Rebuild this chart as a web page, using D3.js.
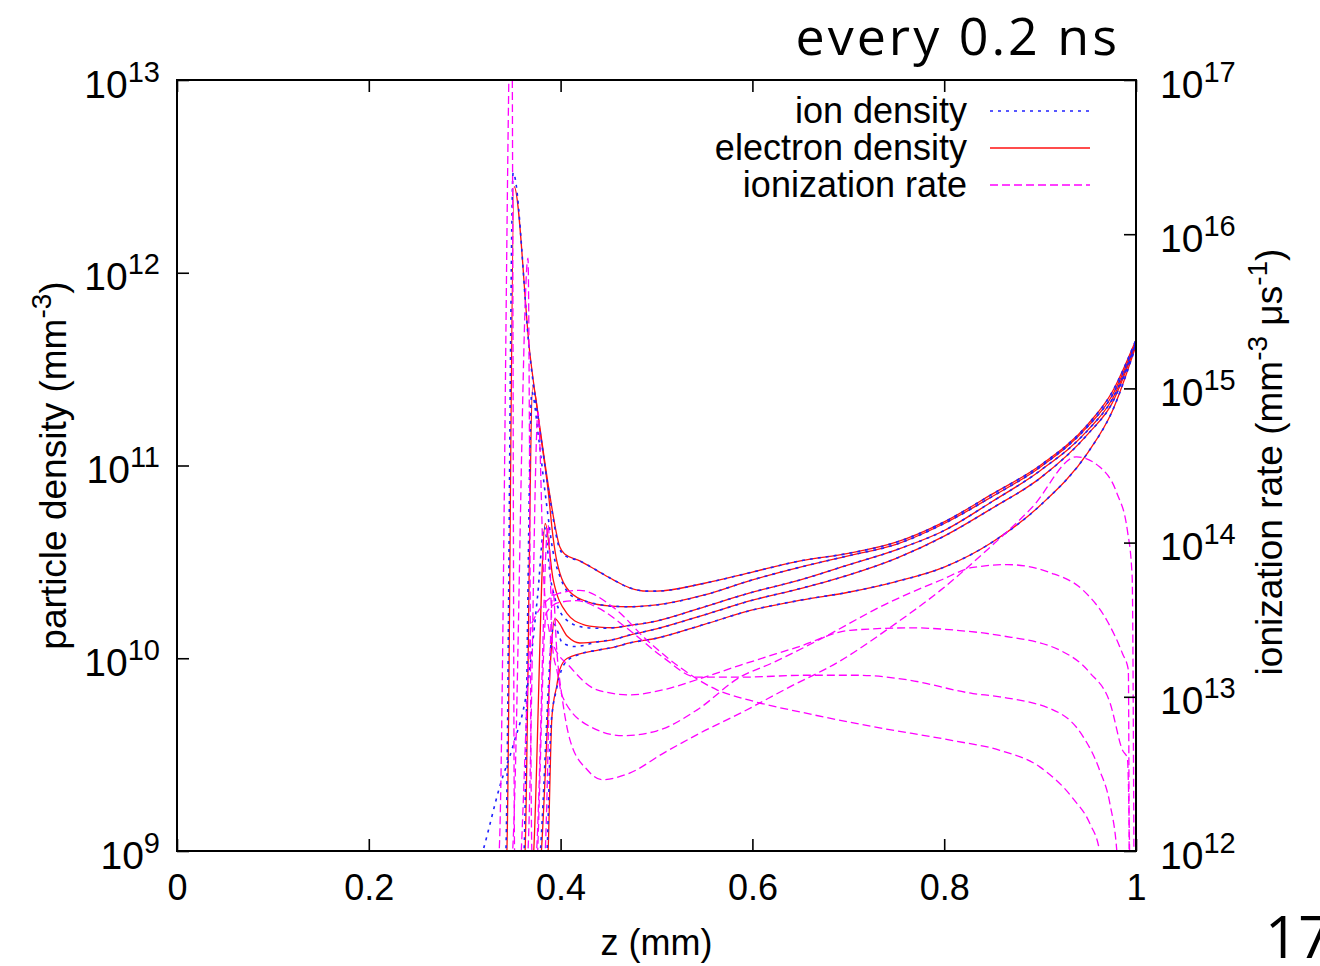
<!DOCTYPE html>
<html>
<head>
<meta charset="utf-8">
<script src="https://cdn.jsdelivr.net/npm/d3@7"></script>
<style>
  html, body { margin: 0; padding: 0; background: #fff; }
  svg text { font-family: "Liberation Sans", Arial, sans-serif; fill: #000; }
</style>
</head>
<body>
<div id="chart"></div>
<script>
// snapshots every 0.2 ns, s1 = front at z~0.345 ... s5 = front at z~0.39

// channel body, where ion and electron density coincide
const zChannel = [0.5, 0.55, 0.6, 0.65, 0.7, 0.75, 0.8, 0.85, 0.9, 0.95, 0.975, 1.0];
const channel1 = [2.23e10, 2.45e10, 2.8e10, 3.2e10, 3.5e10, 4.0e10, 5.1e10, 7.1e10, 1.0e11, 1.64e11, 2.4e11, 4.5e11];
const channel2 = [1.89e10, 2.13e10, 2.55e10, 2.97e10, 3.4e10, 3.9e10, 5.0e10, 6.9e10, 9.8e10, 1.6e11, 2.3e11, 4.4e11];
const channel3 = [1.56e10, 1.85e10, 2.2e10, 2.55e10, 3.05e10, 3.65e10, 4.6e10, 6.5e10, 9.4e10, 1.53e11, 2.2e11, 4.3e11];
const channel4 = [1.42e10, 1.68e10, 2.0e10, 2.3e10, 2.7e10, 3.3e10, 4.3e10, 6.0e10, 8.6e10, 1.46e11, 2.1e11, 4.3e11];
const channel5 = [1.27e10, 1.5e10, 1.78e10, 2.0e10, 2.2e10, 2.5e10, 2.97e10, 4.0e10, 6.2e10, 1.17e11, 1.9e11, 4.2e11];

// front region, [z (mm), density (mm^-3)]
const electronFront1 = [[0.338, 3e8], [0.344, 1e9], [0.3515, 2.8e12], [0.368, 3.8e11], [0.379, 1.5e11], [0.389, 6.9e10], [0.399, 3.8e10], [0.405, 3.45e10], [0.42, 3.2e10], [0.438, 2.85e10], [0.455, 2.55e10], [0.472, 2.32e10], [0.49, 2.23e10]];
const electronFront2 = [[0.356, 3e8], [0.363, 1e9], [0.371, 2.6e11], [0.379, 1.45e11], [0.387, 7.4e10], [0.392, 4.3e10], [0.396, 3.2e10], [0.41, 2.2e10], [0.43, 1.95e10], [0.45, 1.87e10], [0.472, 1.85e10]];
const electronFront3 = [[0.365, 3e8], [0.372, 1e9], [0.384, 5.0e10], [0.392, 2.6e10], [0.407, 1.7e10], [0.423, 1.5e10], [0.44, 1.45e10], [0.455, 1.44e10], [0.472, 1.48e10]];
const electronFront4 = [[0.373, 3e8], [0.38, 1e9], [0.394, 1.6e10], [0.407, 1.3e10], [0.42, 1.2e10], [0.44, 1.22e10], [0.455, 1.25e10], [0.472, 1.32e10]];
const electronFront5 = [[0.381, 3e8], [0.387, 1e9], [0.391, 5.0e9], [0.396, 7.2e9], [0.399, 8.7e9], [0.407, 1.0e10], [0.438, 1.1e10], [0.455, 1.14e10], [0.472, 1.2e10]];

const ionFront1 = [[0.337, 3e8], [0.343, 1e9], [0.3505, 3.3e12], [0.368, 3.7e11], [0.379, 1.45e11], [0.389, 6.7e10], [0.399, 3.7e10], [0.405, 3.4e10], [0.42, 3.2e10], [0.438, 2.85e10], [0.455, 2.55e10], [0.472, 2.32e10], [0.49, 2.23e10]];
const ionFront2 = [[0.356, 3e8], [0.362, 1e9], [0.37, 2.4e11], [0.377, 1.4e11], [0.385, 6.5e10], [0.392, 3.6e10], [0.4, 2.6e10], [0.412, 2.1e10], [0.43, 1.95e10], [0.45, 1.87e10], [0.472, 1.85e10]];
const ionFront3 = [[0.3, 5e8], [0.319, 1e9], [0.337, 2.2e9], [0.351, 3.6e9], [0.365, 6.9e9], [0.376, 2.1e10], [0.383, 4.8e10], [0.39, 2.5e10], [0.405, 1.6e10], [0.423, 1.45e10], [0.44, 1.43e10], [0.455, 1.44e10], [0.472, 1.48e10]];
const ionFront4 = [[0.372, 3e8], [0.379, 1e9], [0.393, 1.5e10], [0.402, 1.2e10], [0.415, 1.15e10], [0.44, 1.22e10], [0.455, 1.25e10], [0.472, 1.32e10]];
const ionFront5 = [[0.38, 3e8], [0.386, 1e9], [0.39, 4.5e9], [0.396, 7.0e9], [0.405, 9.5e9], [0.42, 1.05e10], [0.438, 1.1e10], [0.455, 1.14e10], [0.472, 1.2e10]];

// ionization rate, [z (mm), rate (mm^-3 us^-1)]
const ionization1 = [[0.328, 3e11], [0.336, 1e12], [0.349, 5e17], [0.352, 1e12], [0.355, 5e11], [0.37, 3.0e13], [0.399, 4.7e13], [0.42, 4.9e13], [0.455, 3.8e13], [0.491, 2.3e13], [0.524, 1.56e13], [0.563, 1.11e13], [0.597, 9.5e12], [0.657, 7.8e12], [0.726, 6.4e12], [0.809, 5.2e12], [0.858, 4.5e12], [0.9, 3.5e12], [0.934, 2.2e12], [0.952, 1.5e12], [0.962, 1.0e12], [0.97, 3e11]];
const ionization2 = [[0.34, 3e11], [0.35, 1e12], [0.366, 7.0e15], [0.37, 1e12], [0.373, 5e11], [0.385, 3.5e13], [0.399, 4.1e13], [0.417, 4.2e13], [0.438, 3.8e13], [0.472, 2.7e13], [0.507, 1.8e13], [0.542, 1.34e13], [0.587, 1.34e13], [0.657, 1.38e13], [0.709, 1.38e13], [0.761, 1.29e13], [0.83, 1.05e13], [0.858, 1.0e13], [0.921, 7.8e12], [0.945, 5.5e12], [0.962, 3.35e12], [0.973, 2.0e12], [0.98, 1.0e12], [0.985, 3e11]];
const ionization3 = [[0.357, 3e11], [0.366, 1e12], [0.3765, 7.0e14], [0.383, 5e13], [0.392, 2.2e13], [0.41, 1.56e13], [0.438, 1.11e13], [0.472, 1.03e13], [0.507, 1.11e13], [0.542, 1.29e13], [0.587, 1.6e13], [0.647, 2.1e13], [0.702, 2.7e13], [0.767, 2.8e13], [0.813, 2.7e13], [0.858, 2.5e13], [0.921, 2.0e13], [0.952, 1.43e13], [0.973, 9.1e12], [0.986, 4.5e12], [0.991, 4.0e12], [0.994, 5e11]];
const ionization4 = [[0.367, 3e11], [0.375, 1e12], [0.387, 1.3e14], [0.392, 2e13], [0.396, 1.5e13], [0.402, 1.0e13], [0.431, 6.4e12], [0.465, 5.6e12], [0.5, 6.0e12], [0.542, 8.2e12], [0.587, 1.34e13], [0.621, 1.66e13], [0.667, 2.3e13], [0.743, 4.1e13], [0.796, 5.7e13], [0.83, 6.9e13], [0.866, 7.2e13], [0.91, 6.4e13], [0.945, 4.9e13], [0.97, 3.1e13], [0.986, 1.9e13], [0.992, 1.5e13], [0.993, 5e11]];
const ionization5 = [[0.376, 3e11], [0.384, 1e12], [0.392, 5e13], [0.396, 2e13], [0.402, 9.5e12], [0.41, 5.2e12], [0.428, 3.35e12], [0.443, 2.9e12], [0.472, 3.2e12], [0.507, 4.3e12], [0.545, 5.8e12], [0.587, 7.8e12], [0.639, 1.16e13], [0.691, 1.7e13], [0.743, 2.8e13], [0.796, 4.9e13], [0.845, 9.0e13], [0.892, 1.7e14], [0.938, 3.6e14], [0.962, 3.1e14], [0.98, 2.1e14], [0.991, 1.2e14], [0.996, 6.0e13], [0.998, 5e11]];

const xTicks = [0, 0.2, 0.4, 0.6, 0.8, 1];
const leftTicks = [1e9, 1e10, 1e11, 1e12, 1e13];
const rightTicks = [1e12, 1e13, 1e14, 1e15, 1e16, 1e17];
const legendLabels = ["ion density", "electron density", "ionization rate"];

// build curves
const channels = [channel1, channel2, channel3, channel4, channel5];
const electronFronts = [electronFront1, electronFront2, electronFront3, electronFront4, electronFront5];
const ionFronts = [ionFront1, ionFront2, ionFront3, ionFront4, ionFront5];
const body = c => zChannel.map((z, i) => [z, c[i]]);
const electronCurves = electronFronts.map((f, i) => f.concat(body(channels[i])));
const ionCurves = ionFronts.map((f, i) => f.concat(body(channels[i])));
const rateCurves = [ionization1, ionization2, ionization3, ionization4, ionization5];

const W = 1320, H = 966;
const margin = {top: 80, right: 184, bottom: 115, left: 177},
      width = W - margin.left - margin.right,
      height = H - margin.top - margin.bottom;

const svg = d3.select("#chart").append("svg")
    .attr("width", W)
    .attr("height", H);

const g = svg.append("g")
    .attr("transform", `translate(${margin.left},${margin.top})`);

const x = d3.scaleLinear().domain([0, 1]).range([0, width]);
const yL = d3.scaleLog().domain([1e9, 1e13]).range([height, 0]);
const yR = d3.scaleLog().domain([1e12, 1e17]).range([height, 0]);

g.append("clipPath").attr("id", "plot-clip")
  .append("rect").attr("width", width).attr("height", height);

const lineL = d3.line().x(d => x(d[0])).y(d => yL(d[1])).curve(d3.curveMonotoneX);
const lineR = d3.line().x(d => x(d[0])).y(d => yR(d[1])).curve(d3.curveMonotoneX);

const plot = g.append("g").attr("clip-path", "url(#plot-clip)");

const styles = [
  {color: "#2020ff", width: 1.6, dash: "3,5"},
  {color: "#ff1010", width: 1.3, dash: null},
  {color: "#ff00ff", width: 1.3, dash: "8,4"}
];

plot.selectAll(".electron").data(electronCurves).join("path")
    .attr("class", "electron")
    .attr("fill", "none")
    .attr("stroke", styles[1].color)
    .attr("stroke-width", styles[1].width)
    .attr("d", lineL);

plot.selectAll(".ion").data(ionCurves).join("path")
    .attr("class", "ion")
    .attr("fill", "none")
    .attr("stroke", styles[0].color)
    .attr("stroke-width", styles[0].width)
    .attr("stroke-dasharray", styles[0].dash)
    .attr("d", lineL);

plot.selectAll(".rate").data(rateCurves).join("path")
    .attr("class", "rate")
    .attr("fill", "none")
    .attr("stroke", styles[2].color)
    .attr("stroke-width", styles[2].width)
    .attr("stroke-dasharray", styles[2].dash)
    .attr("d", lineR);

// axes, gnuplot style ticks pointing inwards
const fontSize = 36;
const powerLabel = (sel, dyEm) => {
  sel.each(function(d) {
    const t = d3.select(this).text(null).attr("dy", dyEm).attr("font-size", 39);
    t.append("tspan").text("10");
    t.append("tspan").attr("dy", -16).attr("font-size", 29).text(Math.round(Math.log10(d)));
  });
};

const styleAxis = ax => {
  ax.select(".domain").remove();
  ax.selectAll(".tick line").attr("stroke", "#000").attr("stroke-width", 1.6);
  ax.selectAll("text").attr("font-size", fontSize)
    .attr("font-family", "'Liberation Sans', Arial, sans-serif");
};

g.append("g")
    .attr("transform", `translate(0,${height})`)
    .call(d3.axisBottom(x).tickValues(xTicks).tickFormat(d => String(d))
      .tickSizeInner(-12).tickSizeOuter(0).tickPadding(23))
    .call(styleAxis);

g.append("g")
    .call(d3.axisTop(x).tickValues(xTicks).tickFormat("")
      .tickSizeInner(-12).tickSizeOuter(0))
    .call(styleAxis);

g.append("g")
    .call(d3.axisLeft(yL).tickValues(leftTicks)
      .tickSizeInner(-12).tickSizeOuter(0).tickPadding(17))
    .call(styleAxis)
    .call(ax => ax.selectAll(".tick text").call(powerLabel, "0.44em"));

g.append("g")
    .attr("transform", `translate(${width},0)`)
    .call(d3.axisRight(yR).tickValues(rightTicks)
      .tickSizeInner(-12).tickSizeOuter(0).tickPadding(24))
    .call(styleAxis)
    .call(ax => ax.selectAll(".tick text").call(powerLabel, "0.44em"));

// frame
g.append("rect")
    .attr("width", width)
    .attr("height", height)
    .attr("fill", "none")
    .attr("stroke", "#000")
    .attr("stroke-width", 2);

// axis titles
svg.append("text")
    .attr("x", margin.left + width / 2)
    .attr("y", 955)
    .attr("text-anchor", "middle")
    .attr("font-size", fontSize)
    .text("z (mm)");

const leftTitle = svg.append("text")
    .attr("transform", `translate(66,${margin.top + height / 2}) rotate(-90)`)
    .attr("text-anchor", "middle")
    .attr("font-size", 37);
leftTitle.append("tspan").text("particle density (mm");
leftTitle.append("tspan").attr("dy", -15).attr("font-size", 28).text("-3");
leftTitle.append("tspan").attr("dy", 15).text(")");

const rightTitle = svg.append("text")
    .attr("transform", `translate(1282,462) rotate(-90)`)
    .attr("text-anchor", "middle")
    .attr("font-size", 37);
rightTitle.append("tspan").text("ionization rate (mm");
rightTitle.append("tspan").attr("dy", -15).attr("font-size", 28).text("-3");
rightTitle.append("tspan").attr("dy", 15).text(" \u03bcs");
rightTitle.append("tspan").attr("dy", -15).attr("font-size", 28).text("-1");
rightTitle.append("tspan").attr("dy", 15).text(")");

// legend
const legend = g.append("g");
legendLabels.forEach((label, i) => {
  const yy = 31 + i * 37;
  legend.append("text")
      .attr("x", 790)
      .attr("y", yy + 12)
      .attr("text-anchor", "end")
      .attr("font-size", fontSize)
      .text(label);
  legend.append("line")
      .attr("x1", 813).attr("x2", 913)
      .attr("y1", yy).attr("y2", yy)
      .attr("stroke", styles[i].color)
      .attr("stroke-width", styles[i].width)
      .attr("stroke-dasharray", styles[i].dash);
});

// slide title and page number (page number runs off the slide edge as in the original)
svg.append("text")
    .attr("x", 1120).attr("y", 55)
    .attr("text-anchor", "end")
    .attr("font-size", 52)
    .attr("letter-spacing", 3)
    .style("font-family", "'Open Sans', sans-serif")
    .text("every 0.2 ns");

svg.append("text")
    .attr("x", 1265).attr("y", 958)
    .attr("font-size", 58)
    .style("font-family", "'Open Sans', sans-serif")
    .text("17");
</script>
</body>
</html>
